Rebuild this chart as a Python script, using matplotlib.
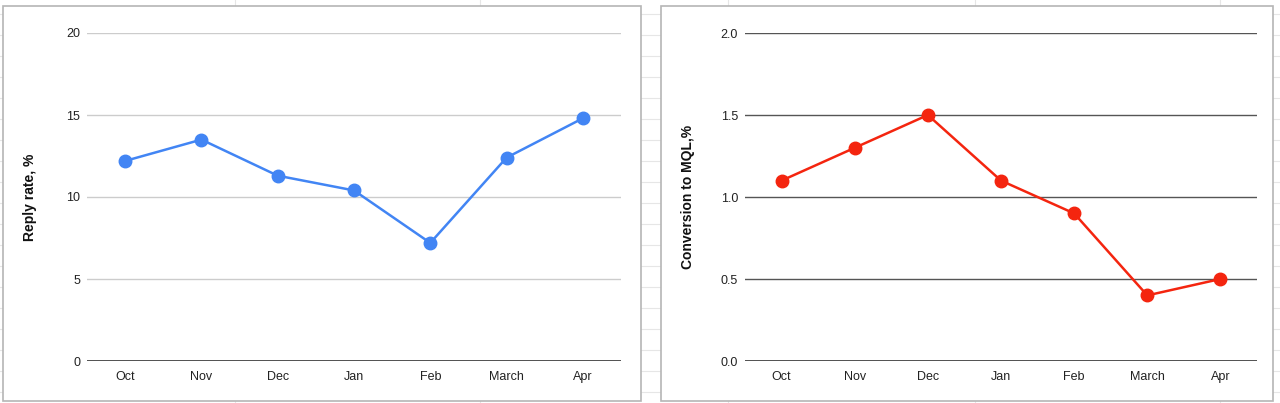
import matplotlib
matplotlib.use("Agg")
import matplotlib.pyplot as plt
from matplotlib.lines import Line2D
from matplotlib.patches import Rectangle

plt.rcParams["font.family"] = ["Liberation Sans", "DejaVu Sans"]

months = ["Oct", "Nov", "Dec", "Jan", "Feb", "March", "Apr"]
reply_rate = [12.2, 13.5, 11.3, 10.4, 7.2, 12.4, 14.8]
mql_conversion = [1.1, 1.3, 1.5, 1.1, 0.9, 0.4, 0.5]

reply_ticks = [0, 5, 10, 15, 20]
mql_ticks = [0.0, 0.5, 1.0, 1.5, 2.0]
mql_tick_labels = ["0.0", "0.5", "1.0", "1.5", "2.0"]

W, H = 1280, 403
fig = plt.figure(figsize=(W / 100, H / 100), dpi=100)
fig.patch.set_facecolor("white")


def px(x0, y0, x1, y1):
    """pixel box (top-left origin) -> figure fraction [l, b, w, h]"""
    return [x0 / W, 1 - y1 / H, (x1 - x0) / W, (y1 - y0) / H]


# faint spreadsheet grid behind the two chart objects
for y in range(14, H, 21):
    fig.add_artist(Line2D([0, 1], [1 - y / H] * 2, color="#e6e6e6", lw=0.8, zorder=0))
for x in [235, 480, 728, 975, 1220]:
    fig.add_artist(Line2D([x / W] * 2, [0, 1], color="#e6e6e6", lw=0.8, zorder=0))

# chart panels (white cards with grey border)
for (x0, x1) in [(3, 641), (661, 1273)]:
    l, b, w, h = px(x0, 6, x1, 401)
    fig.add_artist(Rectangle((l, b), w, h, transform=fig.transFigure,
                             facecolor="white", edgecolor="#b5b5b5", lw=1.2, zorder=1))


def draw(ax, values, color, ylim, ticks, ticklabels, ylabel, grid_color, label_x):
    x = range(len(values))
    ax.plot(x, values, color=color, lw=1.8, marker="o", ms=9, zorder=3)
    ax.set_xlim(-0.5, len(values) - 0.5)
    ax.set_ylim(*ylim)
    ax.set_yticks(ticks)
    ax.set_yticklabels(ticklabels)
    ax.set_xticks(list(x))
    ax.set_xticklabels(months)
    for t in ticks[1:]:
        ax.axhline(t, color=grid_color, lw=1, zorder=1)
    ax.axhline(ticks[0], color="#333333", lw=1.2, zorder=2)
    for s in ax.spines.values():
        s.set_visible(False)
    ax.tick_params(length=0, labelsize=9, colors="#222222")
    ax.tick_params(axis="y", pad=5)
    ax.tick_params(axis="x", pad=7)
    ax.set_facecolor("none")
    ax.set_ylabel(ylabel, fontsize=10, fontweight="bold", color="#111111")
    ax.yaxis.set_label_coords(label_x, 0.5)


ax1 = fig.add_axes(px(87, 33, 621, 361), zorder=2)
draw(ax1, reply_rate, "#4285f4", (0, 20), reply_ticks, [str(t) for t in reply_ticks],
     "Reply rate, %", "#cccccc", -0.094)

ax2 = fig.add_axes(px(745, 33, 1257, 361), zorder=2)
draw(ax2, mql_conversion, "#f4250f", (0, 2.0), mql_ticks, mql_tick_labels,
     "Conversion to MQL,%", "#555555", -0.097)

fig.savefig("out.png", dpi=100, facecolor="white")
